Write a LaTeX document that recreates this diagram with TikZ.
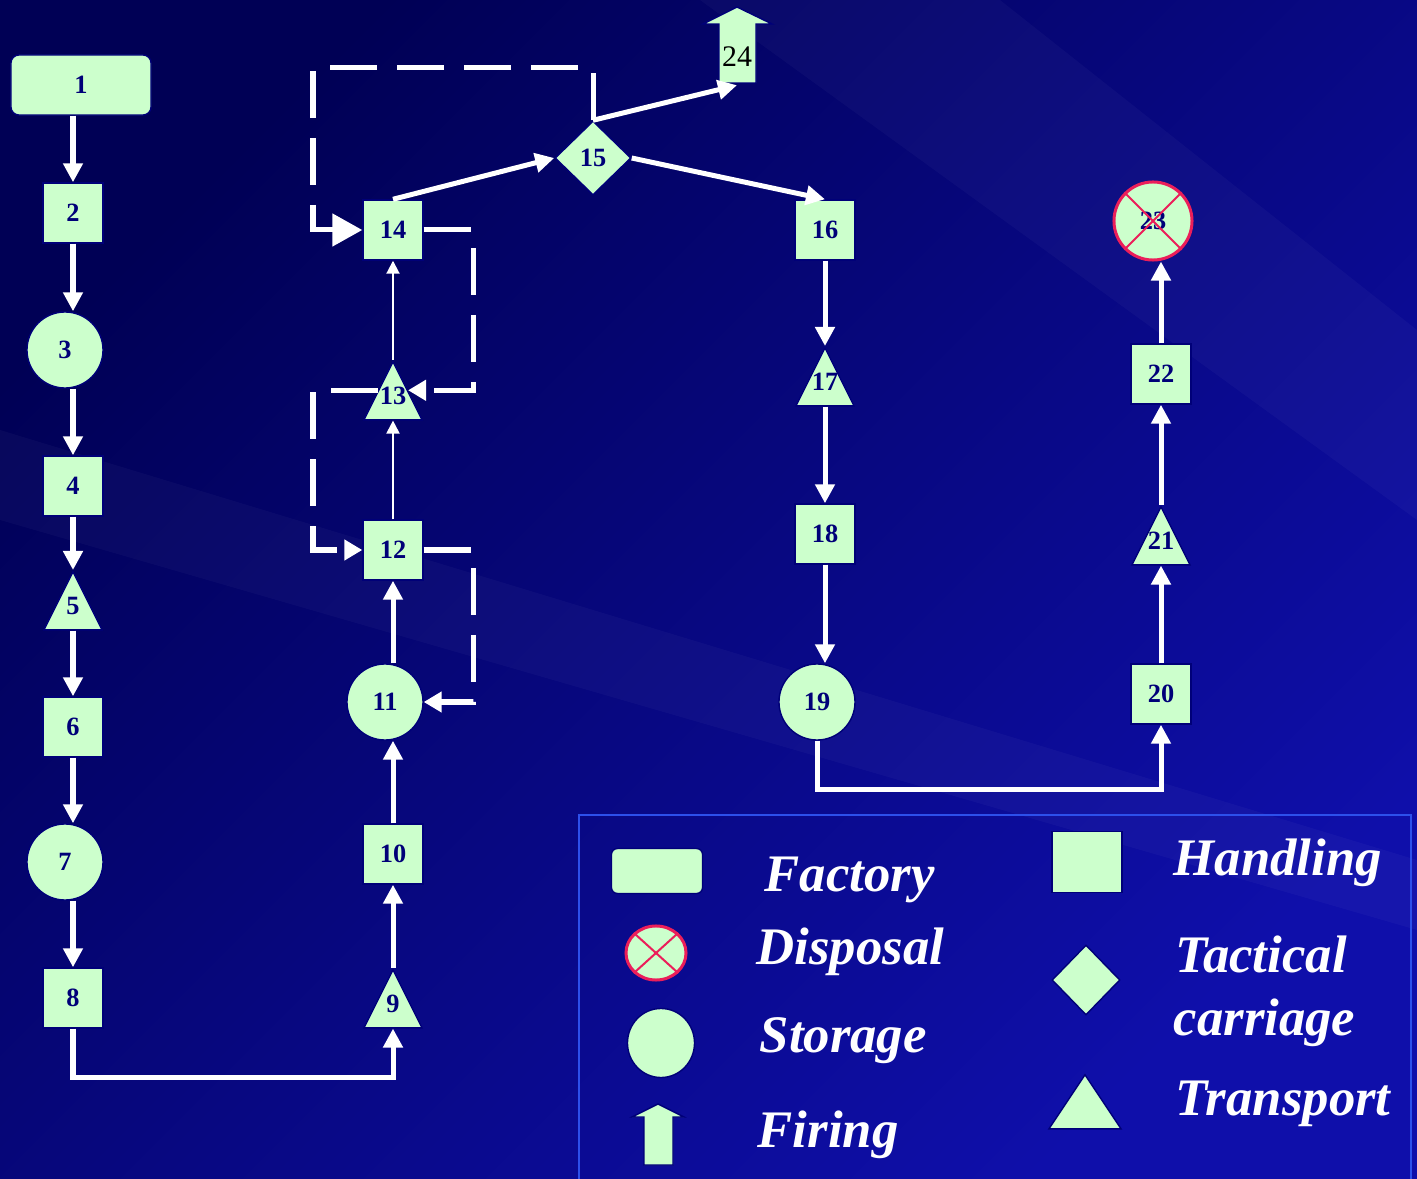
\documentclass[tikz,border=0pt]{standalone}
\usepackage{fontspec}
\setmainfont{Liberation Serif}
\usepackage{xcolor}
\usepackage{tikz}
\usetikzlibrary{calc, shapes.geometric, arrows.meta, positioning}

\definecolor{xanhla}{RGB}{204,255,204}
\definecolor{chu}{RGB}{0,0,120}
\definecolor{dohong}{RGB}{235,30,90}
\definecolor{vien}{RGB}{45,80,235}
\definecolor{nentoi}{RGB}{0,0,85}
\definecolor{nensang}{RGB}{15,15,170}

\tikzset{
  numfont/.style={font=\fontsize{7.5}{9}\selectfont\bfseries, text=chu},
  factbox/.style={rectangle, rounded corners=0.08cm, draw=chu, line width=0.4pt, fill=xanhla,
    minimum width=1.4cm, minimum height=0.6cm, inner sep=0pt, numfont},
  handbox/.style={rectangle, draw=chu, line width=0.4pt, fill=xanhla,
    minimum width=0.6cm, minimum height=0.6cm, inner sep=0pt, numfont},
  storecirc/.style={circle, draw=chu, line width=0.4pt, fill=xanhla,
    minimum size=0.76cm, inner sep=0pt, numfont},
  dispcirc/.style={circle, draw=dohong, line width=0.03cm, fill=xanhla,
    minimum size=0.78cm, inner sep=0pt, numfont},
  transtri/.style={isosceles triangle, isosceles triangle stretches, shape border rotate=90,
    draw=chu, line width=0.4pt, fill=xanhla, minimum width=0.58cm, minimum height=0.58cm,
    inner sep=0pt, anchor=apex},
  trinum/.style={label={[numfont, yshift=0.06cm]center:#1}},
  tactdia/.style={diamond, draw=chu, line width=0.4pt, fill=xanhla,
    minimum width=0.76cm, minimum height=0.74cm, inner sep=0pt, numfont},
  fireshape/.style={fill=xanhla, draw=chu, line width=0.4pt},
  flow/.style={white, line width=0.05cm, -{Triangle[width=0.19cm, length=0.19cm]}},
  thinflow/.style={white, line width=0.02cm, -{Triangle[width=0.13cm, length=0.13cm]}},
  loopline/.style={white, line width=0.05cm, dash pattern=on 0.47cm off 0.2cm},
  bighead/.style={-{Triangle[width=0.32cm, length=0.3cm]}},
  smallhead/.style={-{Triangle[width=0.2cm, length=0.18cm]}},
  legtext/.style={anchor=base west, inner sep=0pt, text=white,
    font=\fontsize{15}{18}\selectfont\bfseries\itshape}
}

\begin{document}
\begin{tikzpicture}[x=0.01cm, y=-0.01cm]
    % Nền
    \useasboundingbox (0,0) rectangle (1417,1179);
    \shade[top color=nentoi, bottom color=nensang, shading angle=45] (0,0) rectangle (1417,1179);
    \fill[white, opacity=0.03] (700,0) -- (1000,0) -- (1417,330) -- (1417,520) -- cycle;
    \fill[white, opacity=0.03] (0,430) -- (0,520) -- (1417,930) -- (1417,860) -- cycle;

    % Cột thứ nhất
    \node[factbox] (n1) at (81,85) {1};
    \node[handbox] (n2) at (73,213) {2};
    \node[storecirc] (n3) at (65,350) {3};
    \node[handbox] (n4) at (73,486) {4};
    \node[transtri, trinum=5] (n5) at (73,570) {};
    \node[handbox] (n6) at (73,727) {6};
    \node[storecirc] (n7) at (65,862) {7};
    \node[handbox] (n8) at (73,998) {8};

    % Cột thứ hai
    \node[transtri, trinum=9] (n9) at (393,968) {};
    \node[handbox] (n10) at (393,854) {10};
    \node[storecirc] (n11) at (385,702) {11};
    \node[handbox] (n12) at (393,550) {12};
    \node[transtri, trinum=13] (n13) at (393,360) {};
    \node[handbox] (n14) at (393,230) {14};
    \node[tactdia] (n15) at (593,158) {15};

    % Mũi tên bắn
    \filldraw[fireshape] (719,83) -- (719,24) -- (703,24) -- (737,7) -- (772,24)
        -- (756,24) -- (756,83) -- cycle;
    \node[minimum width=0.37cm, minimum height=0.55cm, inner sep=0pt,
        font=\fontsize{8.5}{10}\selectfont, text=black] (n24) at (737,57) {24};

    % Cột thứ ba và thứ tư
    \node[handbox] (n16) at (825,230) {16};
    \node[transtri, trinum=17] (n17) at (825,346) {};
    \node[handbox] (n18) at (825,534) {18};
    \node[storecirc] (n19) at (817,702) {19};
    \node[handbox] (n20) at (1161,694) {20};
    \node[transtri, trinum=21] (n21) at (1161,505) {};
    \node[handbox] (n22) at (1161,374) {22};
    \node[dispcirc] (n23) at (1153,221) {23};
    \draw[dohong, line width=0.02cm] (n23.north west) -- (n23.south east);
    \draw[dohong, line width=0.02cm] (n23.north east) -- (n23.south west);

    % Các mũi tên
    \draw[flow] (n2 |- n1.south) -- (n2);
    \draw[flow] (n2) -- (n2 |- n3.north);
    \draw[flow] (n4 |- n3.south) -- (n4);
    \draw[flow] (n4) -- (n5);
    \draw[flow] (n5) -- (n6);
    \draw[flow] (n6) -- (n6 |- n7.north);
    \draw[flow] (n8 |- n7.south) -- (n8);
    \draw[flow] (n8.south) -- ++(0,49) -| (n9);
    \draw[flow] (n9) -- (n10);
    \draw[flow] (n10) -- (n10 |- n11.south);
    \draw[flow] (n12 |- n11.north) -- (n12);
    \draw[thinflow] (n12) -- (n13);
    \draw[thinflow] (n13) -- (n14);
    \draw[flow] (n14.north) -- (n15.west);
    \draw[flow] (n15.east) -- (n16.north);
    \draw[flow] (n15.north) -- (n24.south);
    \draw[flow] (n16) -- (n17);
    \draw[flow] (n17) -- (n18);
    \draw[flow] (n18) -- (n18 |- n19.north);
    \draw[flow] (n19.south) -- ++(0,49) -| (n20);
    \draw[flow] (n20) -- (n21);
    \draw[flow] (n21) -- (n22);
    \draw[flow] (n22) -- (n22 |- n23.south);

    % Các vòng nét đứt
    \draw[loopline, bighead] (n15.north) -- (593,68) -- (313,68) |- (n14);
    \draw[loopline, smallhead] (n14) -- (473,230) |- (n13.right side);
    \draw[loopline, smallhead] (n13.left side) -| (313,470) |- (n12);
    \draw[loopline, smallhead] (n12) -- (473,550) |- (n11);

    % Chú thích
    \draw[vien, line width=0.025cm] (579,1190) |- (1411,815) -- (1411,1190);
    \node[factbox, minimum width=0.91cm, minimum height=0.45cm, rounded corners=0.06cm] (lg1) at (657,871) {};
    \node[dispcirc, ellipse, minimum width=0.6cm, minimum height=0.54cm] (lg2) at (656,953) {};
    \draw[dohong, line width=0.02cm] (lg2.north west) -- (lg2.south east);
    \draw[dohong, line width=0.02cm] (lg2.north east) -- (lg2.south west);
    \node[storecirc, ellipse, minimum width=0.67cm, minimum height=0.69cm] (lg3) at (661,1043) {};
    \filldraw[fireshape] (644,1165) -- (644,1117) -- (632,1117) -- (658,1104) -- (684,1117)
        -- (673,1117) -- (673,1165) -- cycle;
    \node[handbox, minimum width=0.7cm, minimum height=0.61cm] (lg5) at (1087,862) {};
    \node[tactdia, minimum width=0.68cm, minimum height=0.7cm] (lg6) at (1086,980) {};
    \node[transtri, minimum width=0.72cm, minimum height=0.54cm] (lg7) at (1085,1073) {};

    \node[legtext] (tx1) at (764,892) {Factory};
    \node[legtext] (tx2) at (756,965) {Disposal};
    \node[legtext] (tx3) at (759,1052) {Storage};
    \node[legtext] (tx4) at (757,1147) {Firing};
    \node[legtext] (tx5) at (1173,875) {Handling};
    \node[legtext] (tx6) at (1175,972) {Tactical};
    \node[legtext] (tx7) at (1173,1035) {carriage};
    \node[legtext] (tx8) at (1175,1115) {Transport};

\end{tikzpicture}
\end{document}
